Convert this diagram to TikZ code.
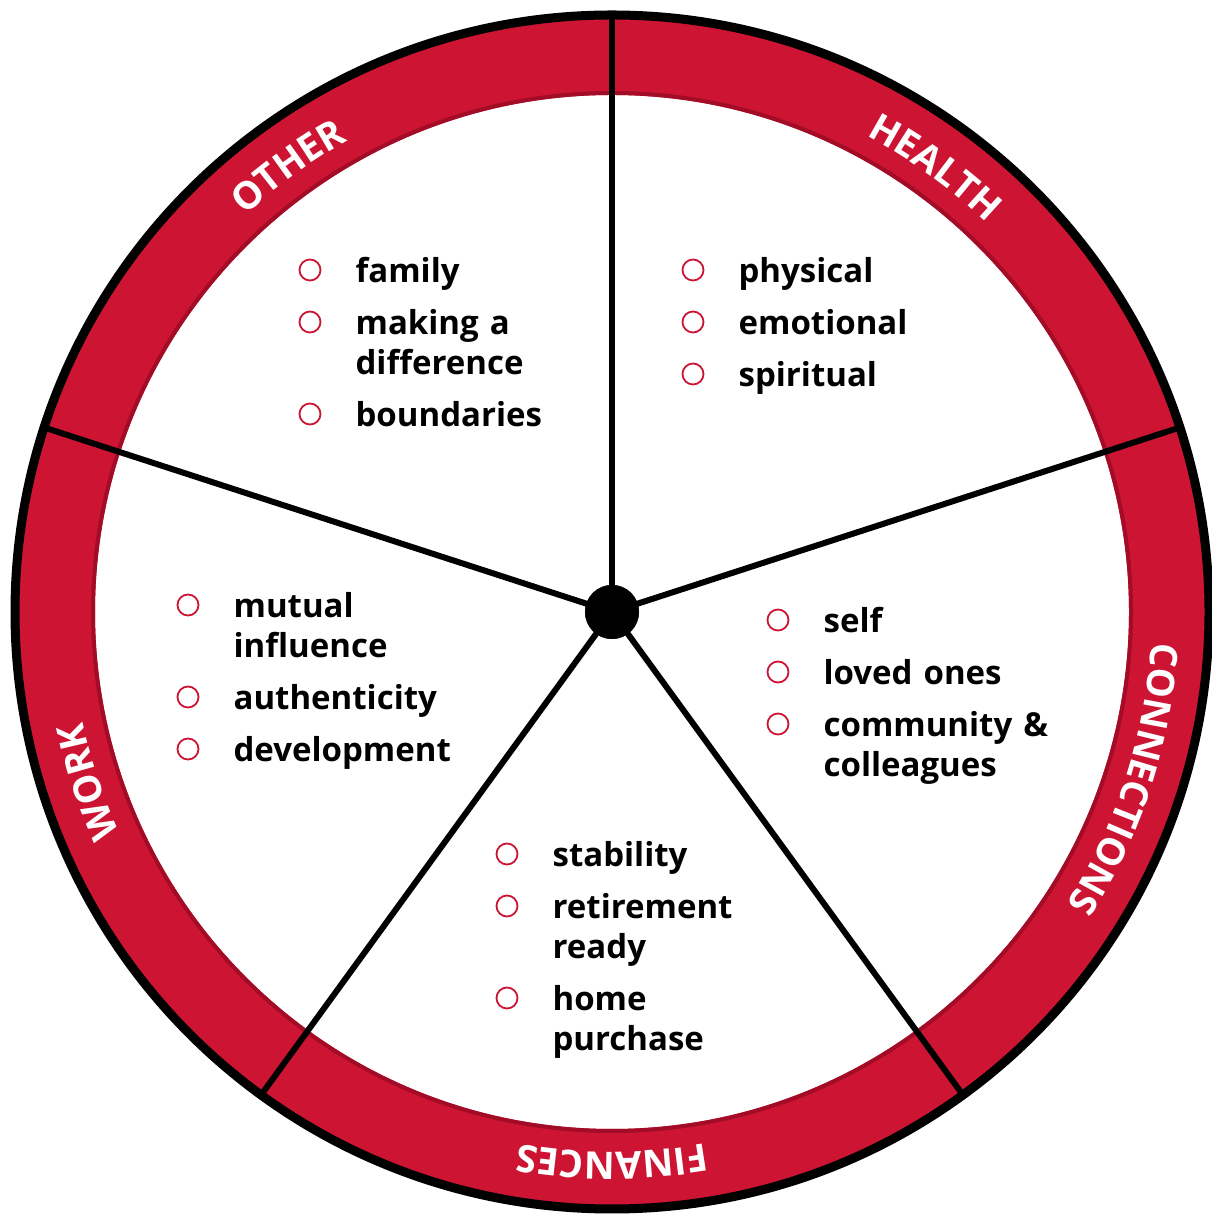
\documentclass[tikz,border=0pt]{standalone}
\usepackage{fontspec}
\setmainfont{Open Sans}
\usetikzlibrary{decorations.text, positioning}
\definecolor{wheelred}{RGB}{205, 21, 51}
\definecolor{wheeldark}{RGB}{163, 12, 38}
\newcommand{\bandfont}{\fontsize{38}{38}\selectfont\bfseries}
\tikzset{
  bul/.style={circle, draw=wheelred, line width=1.8pt, minimum size=21pt, inner sep=0pt},
  entry/.style={anchor=base west, font=\fontsize{33}{40}\selectfont\bfseries, text width=320pt, align=left, inner sep=0pt},
  spoke/.style={line width=6pt, black},
  bandtext/.style={decorate, decoration={text along path, text align=center, text color=white}},
}

\begin{document}
\begin{tikzpicture}[x=1pt, y=1pt]
  \useasboundingbox (0,0) rectangle (1212,1215);
  \coordinate (c) at (612,603);

  % outer band
  \fill[wheelred, even odd rule] (c) circle[radius=595] (c) circle[radius=517];
  \draw[wheeldark, line width=4pt] (c) circle[radius=519];
  \draw[line width=9pt] (c) circle[radius=597];

  % spokes and hub
  \foreach \a [count=\i] in {90, 18, -54, -126, 162}
    \path ([shift={(\a:595)}]c) coordinate (rim\i);
  \node[circle, fill=black, minimum size=54pt, inner sep=0pt] (hub) at (c) {};
  \foreach \i in {1,...,5}
    \draw[spoke] (hub.center) -- (rim\i);
  \node[circle, fill=black, minimum size=54pt, inner sep=0pt] at (hub) {};

  % band labels
  \path[bandtext, decoration={text={|\bandfont|HEALTH}}] ([shift={(99:540)}]c) arc[start angle=99, end angle=9, radius=540];
  \path[bandtext, decoration={text={|\bandfont|OTHER}}] ([shift={(171:540)}]c) arc[start angle=171, end angle=81, radius=540];
  \path[bandtext, decoration={text={|\bandfont|CONNECTIONS}}] ([shift={(27:540)}]c) arc[start angle=27, end angle=-63, radius=540];
  \path[bandtext, decoration={text={|\bandfont|FINANCES}}] ([shift={(-45:540)}]c) arc[start angle=-45, end angle=-135, radius=540];
  \path[bandtext, decoration={text={|\bandfont|WORK}}] ([shift={(243:540)}]c) arc[start angle=243, end angle=153, radius=540];

  % other
  \foreach \y/\txt [count=\i] in {945/family, 893/{making a\\difference}, 801/boundaries}{
    \node[bul] (oth\i) at (310,\y) {};
    \node[entry] (othtxt\i) at ([xshift=34pt, yshift=-13pt]oth\i.east) {\txt};
  }
  % health
  \foreach \y/\txt [count=\i] in {945/physical, 893/emotional, 841/spiritual}{
    \node[bul] (hea\i) at (693,\y) {};
    \node[entry] (heatxt\i) at ([xshift=34pt, yshift=-13pt]hea\i.east) {\txt};
  }
  % work
  \foreach \y/\txt [count=\i] in {610/{mutual\\influence}, 518/authenticity, 466/development}{
    \node[bul] (wor\i) at (188,\y) {};
    \node[entry] (wortxt\i) at ([xshift=34pt, yshift=-13pt]wor\i.east) {\txt};
  }
  % connections
  \foreach \y/\txt [count=\i] in {595/self, 543/loved ones, 491/{community \&\\colleagues}}{
    \node[bul] (con\i) at (778,\y) {};
    \node[entry] (contxt\i) at ([xshift=34pt, yshift=-13pt]con\i.east) {\txt};
  }
  % finances
  \foreach \y/\txt [count=\i] in {361/stability, 309/{retirement\\ready}, 217/{home\\purchase}}{
    \node[bul] (fin\i) at (507,\y) {};
    \node[entry] (fintxt\i) at ([xshift=34pt, yshift=-13pt]fin\i.east) {\txt};
  }
\end{tikzpicture}
\end{document}
